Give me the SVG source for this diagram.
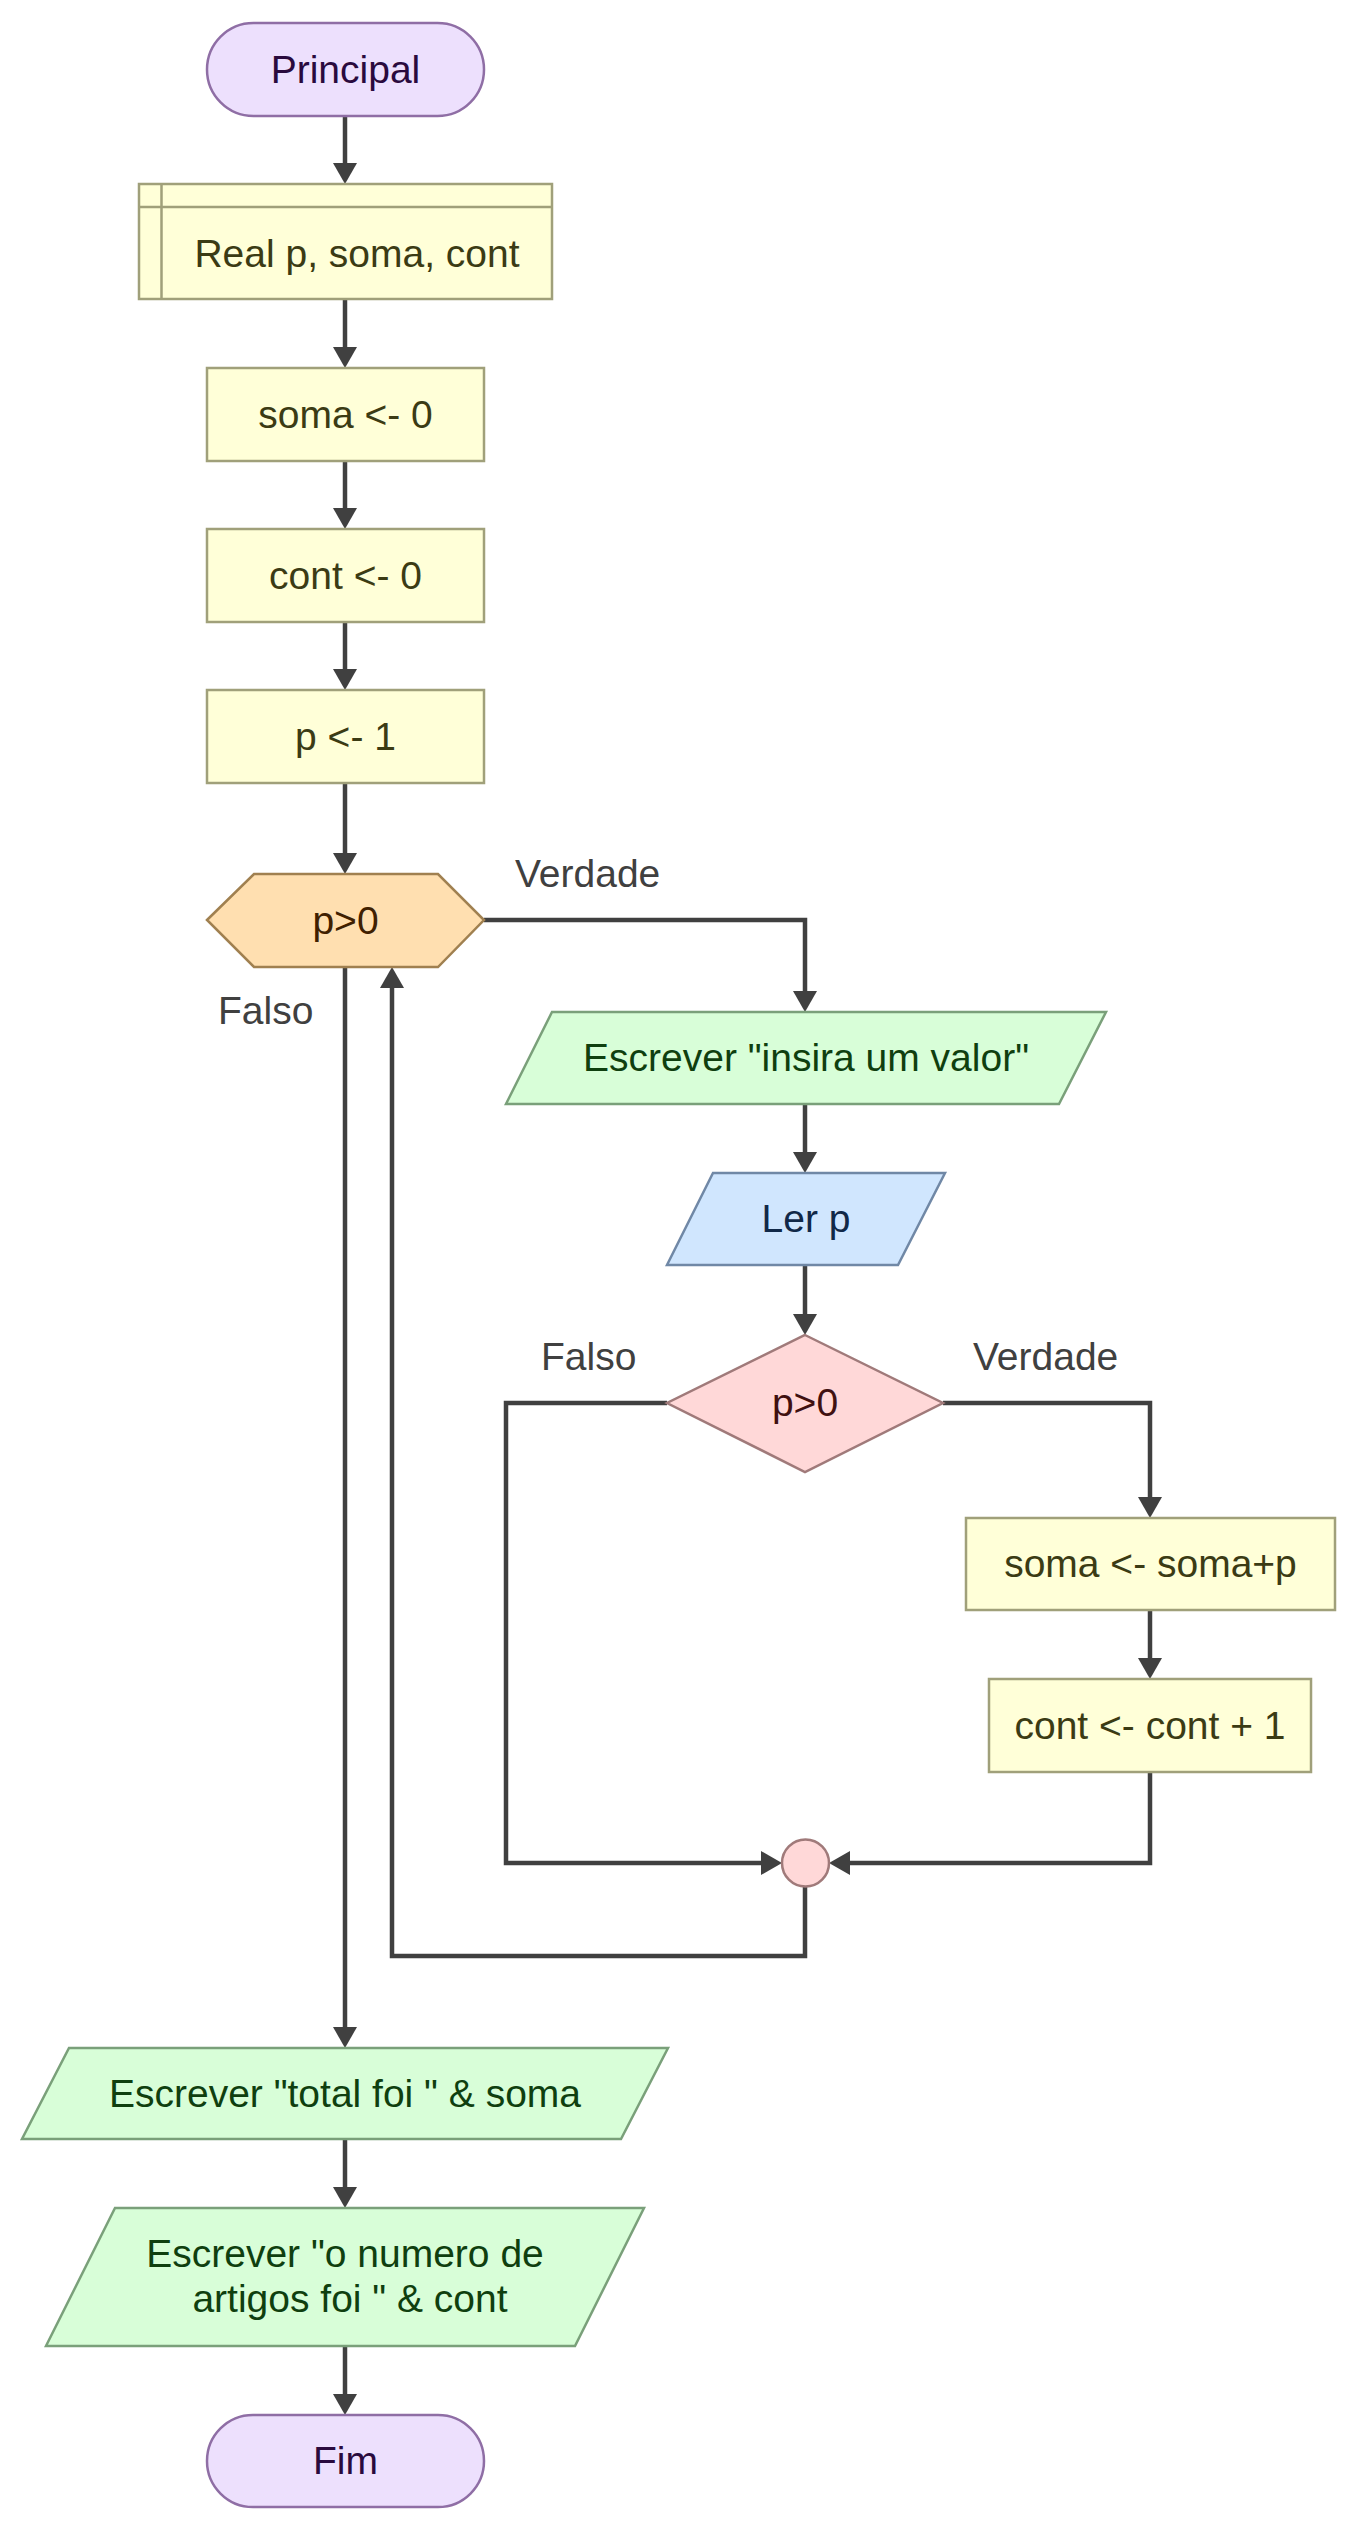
<svg xmlns="http://www.w3.org/2000/svg" width="1358" height="2531" viewBox="0 0 1358 2531">
<defs>
<marker id="arr" viewBox="0 0 21 24" refX="11" refY="12" markerWidth="21" markerHeight="24" markerUnits="userSpaceOnUse" orient="auto">
<path d="M0,0 L21,12 L0,24 z" fill="#404040"/>
</marker>
<style>
text{font-family:"Liberation Sans",Arial,sans-serif;font-size:39px;text-anchor:middle}
.term{fill:#ede0fd;stroke:#8f6ea5;stroke-width:2.5}
.term-t{fill:#2a0a3e}
.proc{fill:#ffffd8;stroke:#a0a07a;stroke-width:2.5}
.proc-t{fill:#3b3b14}
.hex{fill:#ffdfb0;stroke:#a08050;stroke-width:2.5}
.hex-t{fill:#402000}
.out{fill:#d8fed8;stroke:#7aa07a;stroke-width:2.5}
.out-t{fill:#0f3f0f}
.inp{fill:#d0e6fe;stroke:#7088a6;stroke-width:2.5}
.inp-t{fill:#102848}
.dec{fill:#ffd8d8;stroke:#a07a7a;stroke-width:2.5}
.dec-t{fill:#401010}
.lbl{fill:#404040;text-anchor:start}
.c{fill:none;stroke:#404040;stroke-width:4.5;stroke-linejoin:miter;marker-end:url(#arr)}
</style>
</defs>
<rect width="1358" height="2531" fill="#ffffff"/>
<g id="connectors">
<path class="c" d="M345,116 V174"/>
<path class="c" d="M345,299 V358"/>
<path class="c" d="M345,461 V519"/>
<path class="c" d="M345,622 V680"/>
<path class="c" d="M345,783 V864"/>
<path class="c" d="M484,920 H805 V1002"/>
<path class="c" d="M805,1104 V1163"/>
<path class="c" d="M805,1265 V1325"/>
<path class="c" d="M943,1403 H1150 V1508"/>
<path class="c" d="M1150,1610 V1669"/>
<path class="c" d="M1150,1772 V1863 H839"/>
<path class="c" d="M667,1403 H506 V1863 H772"/>
<path class="c" d="M805,1887 V1956 H392 V977"/>
<path class="c" d="M345,967 V2038"/>
<path class="c" d="M345,2139 V2198"/>
<path class="c" d="M345,2346 V2405"/>
<text class="lbl" x="515" y="887">Verdade</text>
<text class="lbl" x="218" y="1024">Falso</text>
<text class="lbl" x="541" y="1370">Falso</text>
<text class="lbl" x="973" y="1370">Verdade</text>
</g>
<g id="n-principal">
<rect class="term" x="207" y="23" width="277" height="93" rx="46.5"/>
<text class="term-t" x="345.5" y="83">Principal</text>
</g>
<g id="n-decl">
<rect class="proc" x="139" y="184" width="413" height="115"/>
<path d="M139,207 H552 M161.5,184 V299" fill="none" stroke="#a0a07a" stroke-width="2.5"/>
<text class="proc-t" x="357" y="267">Real p, soma, cont</text>
</g>
<g id="n-soma0">
<rect class="proc" x="207" y="368" width="277" height="93"/>
<text class="proc-t" x="345.5" y="428">soma &lt;- 0</text>
</g>
<g id="n-cont0">
<rect class="proc" x="207" y="529" width="277" height="93"/>
<text class="proc-t" x="345.5" y="589">cont &lt;- 0</text>
</g>
<g id="n-p1">
<rect class="proc" x="207" y="690" width="277" height="93"/>
<text class="proc-t" x="345.5" y="750">p &lt;- 1</text>
</g>
<g id="n-while">
<polygon class="hex" points="207,920 254,874 438,874 484,920 438,967 254,967"/>
<text class="hex-t" x="345.5" y="934">p&gt;0</text>
</g>
<g id="n-insira">
<polygon class="out" points="552,1012 1106,1012 1059,1104 506,1104"/>
<text class="out-t" x="806" y="1071">Escrever "insira um valor"</text>
</g>
<g id="n-lerp">
<polygon class="inp" points="713,1173 945,1173 898,1265 667,1265"/>
<text class="inp-t" x="806" y="1232">Ler p</text>
</g>
<g id="n-if">
<polygon class="dec" points="805,1335 943,1403 805,1472 667,1403"/>
<text class="dec-t" x="805" y="1416">p&gt;0</text>
</g>
<g id="n-somap">
<rect class="proc" x="966" y="1518" width="369" height="92"/>
<text class="proc-t" x="1150.5" y="1577">soma &lt;- soma+p</text>
</g>
<g id="n-cont1">
<rect class="proc" x="989" y="1679" width="322" height="93"/>
<text class="proc-t" x="1150" y="1739">cont &lt;- cont + 1</text>
</g>
<g id="n-join">
<circle class="dec" cx="805.5" cy="1863" r="23.5"/>
</g>
<g id="n-total">
<polygon class="out" points="69,2048 668,2048 621,2139 22,2139"/>
<text class="out-t" x="345" y="2107">Escrever "total foi " &amp; soma</text>
</g>
<g id="n-numero">
<polygon class="out" points="115,2208 644,2208 575,2346 46,2346"/>
<text class="out-t" x="345" y="2267">Escrever "o numero de</text>
<text class="out-t" x="350" y="2312">artigos foi " &amp; cont</text>
</g>
<g id="n-fim">
<rect class="term" x="207" y="2415" width="277" height="92" rx="46"/>
<text class="term-t" x="345.5" y="2474">Fim</text>
</g>
</svg>
